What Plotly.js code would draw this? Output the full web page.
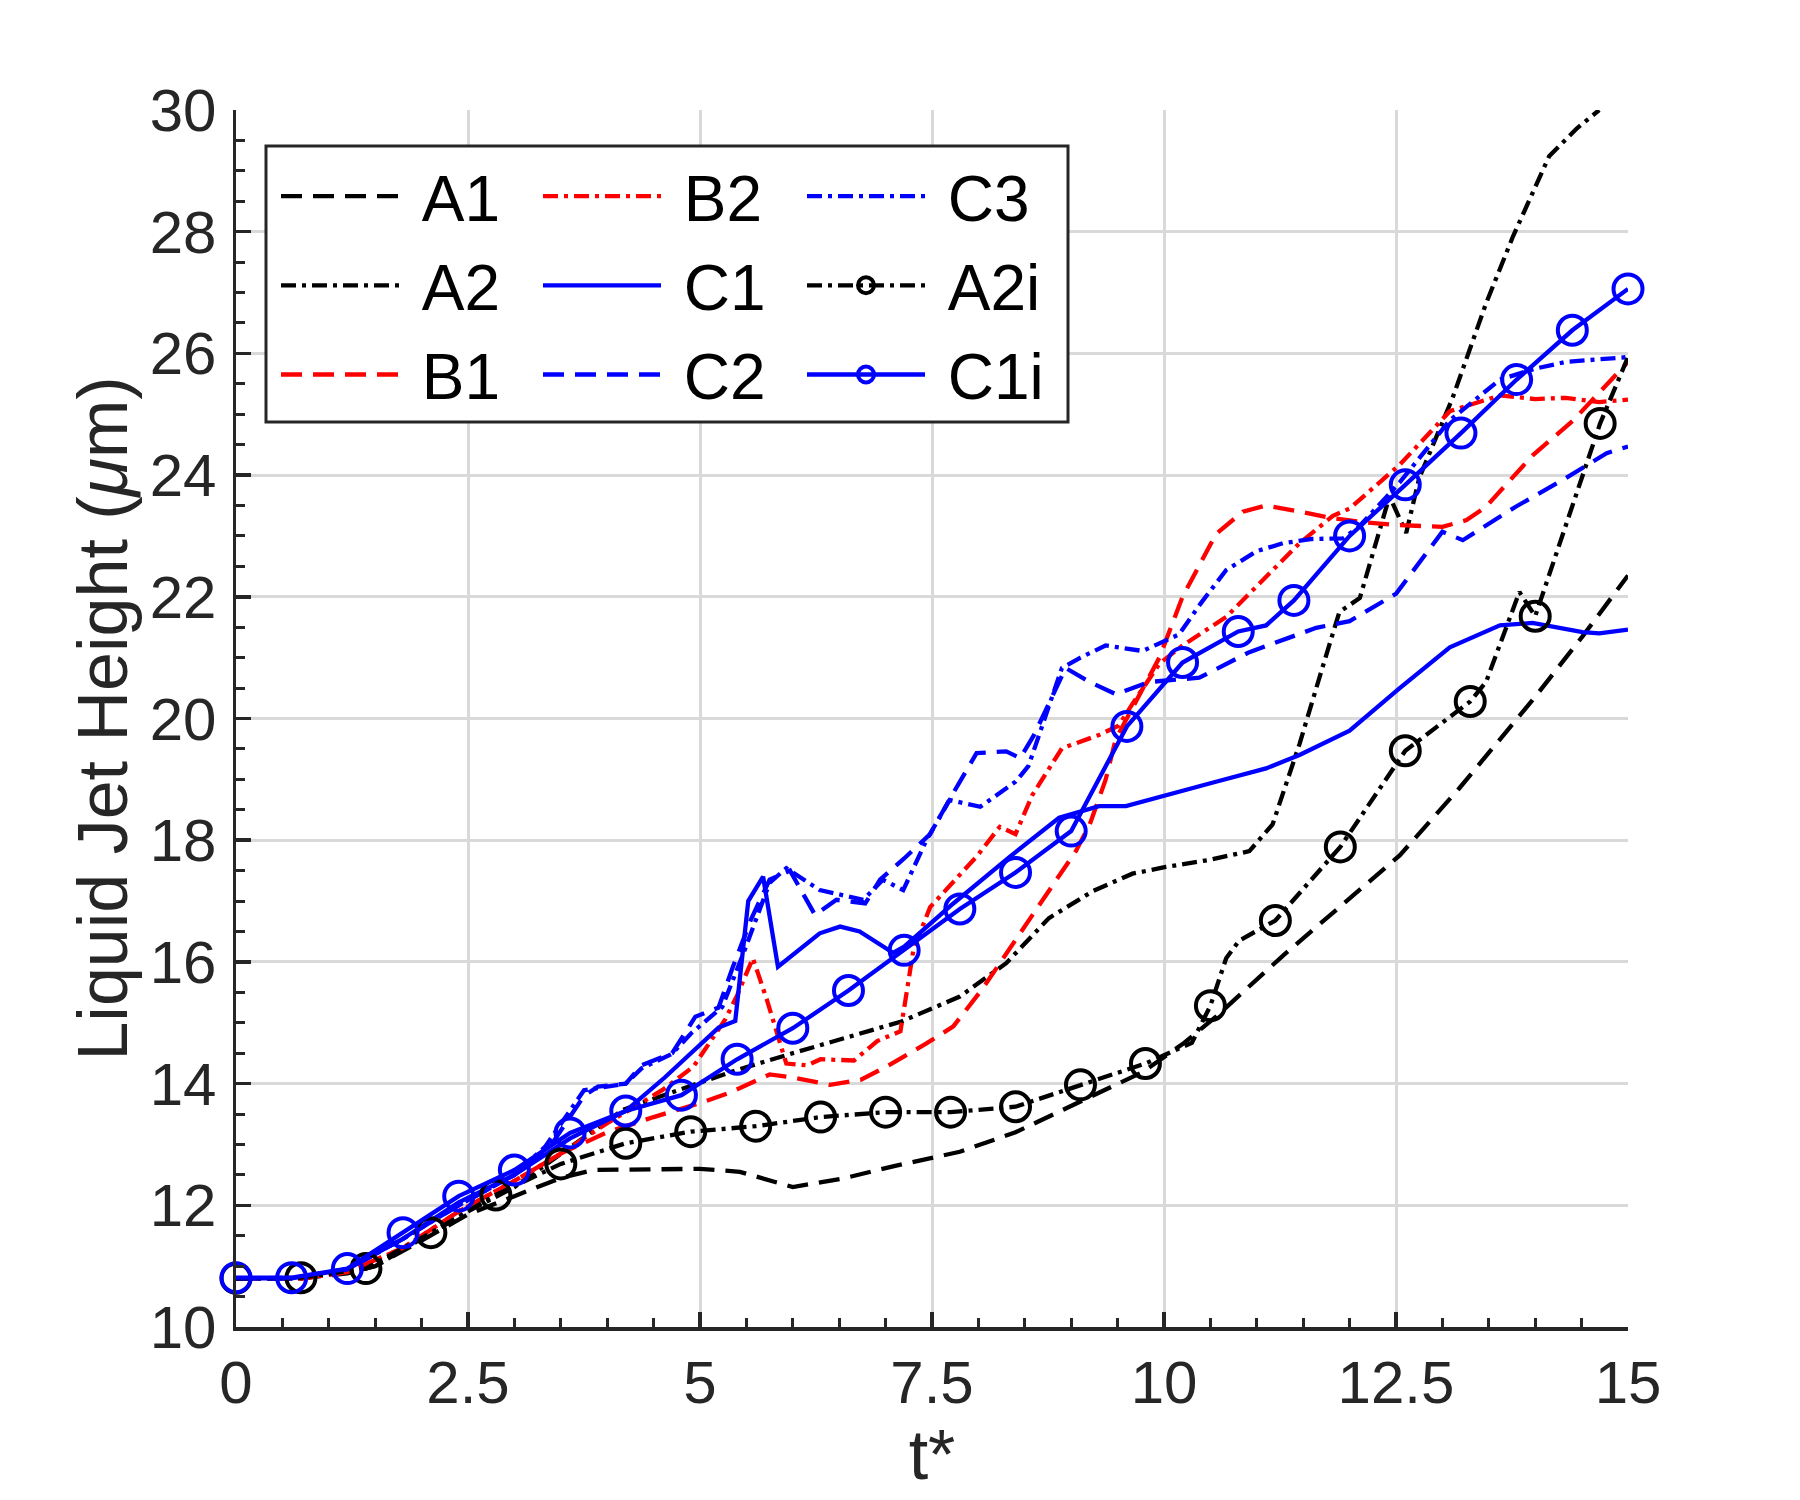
<!DOCTYPE html>
<html>
<head>
<meta charset="utf-8">
<script src="https://cdn.plot.ly/plotly-3.0.1.min.js"></script>
<style>html,body{margin:0;padding:0;background:#fff;}#chart{width:1800px;height:1500px;}</style>
</head>
<body>
<div id="chart"></div>
<script>
// ---------- data ----------
const A1_t = [0,0.7,1.2,1.5,2.0,2.5,3.0,3.5,3.85,4.5,5.0,5.43,6.0,6.54,7.08,7.8,8.4,9.12,9.77,10.2,10.56,11.28,12.0,12.54,13.18,13.97,14.51,15];
const A1_y = [10.8,10.8,10.88,11.0,11.42,11.85,12.15,12.45,12.58,12.6,12.6,12.55,12.3,12.44,12.64,12.88,13.2,13.72,14.19,14.65,15.1,16.1,17.05,17.75,18.85,20.3,21.35,22.35];

const A2_t = [0,0.7,1.2,1.5,2.0,2.5,3.0,3.5,4.17,4.78,5.39,6.0,6.5,7.17,7.8,8.3,8.76,9.23,9.66,10.02,10.5,10.92,11.17,11.46,11.7,11.89,12.11,12.43,12.61,12.75,13.11,13.47,13.76,14.15,14.45,14.69];
const A2_y = [10.8,10.8,10.9,11.0,11.45,11.9,12.3,12.85,13.57,13.9,14.22,14.5,14.72,15.02,15.43,15.98,16.72,17.16,17.45,17.56,17.68,17.82,18.26,19.58,20.8,21.75,21.98,23.65,23.05,23.95,25.27,26.82,27.92,29.24,29.7,30.0];

const B1_t = [0,0.7,1.2,1.8,2.4,3.0,3.5,4.0,4.5,5.0,5.32,5.75,6.0,6.4,6.73,7.01,7.44,7.73,8.04,8.4,8.69,9.05,9.2,9.37,9.48,9.66,9.95,10.2,10.56,10.85,11.1,11.46,11.82,12.18,12.5,13.0,13.26,13.47,13.97,14.41,15];
const B1_y = [10.8,10.8,10.9,11.3,11.9,12.4,12.85,13.2,13.45,13.68,13.85,14.15,14.1,13.98,14.06,14.28,14.66,14.94,15.55,16.35,17.0,17.82,18.26,18.99,19.66,20.17,21.0,22.0,23.03,23.4,23.5,23.4,23.29,23.22,23.18,23.15,23.26,23.48,24.32,24.9,25.86];

const B2_t = [0,0.7,1.2,1.8,2.4,3.0,3.5,4.0,4.3,4.6,4.93,5.27,5.4,5.57,5.72,5.93,6.15,6.3,6.66,6.91,7.16,7.3,7.41,7.48,7.98,8.23,8.4,8.58,8.9,9.3,9.51,9.66,9.95,10.2,10.67,11.1,11.46,11.82,12.0,12.54,13.08,13.62,14.0,14.33,14.69,15];
const B2_y = [10.8,10.8,10.9,11.3,11.9,12.4,12.85,13.35,13.62,13.9,14.28,15.05,15.45,16.06,15.38,14.33,14.3,14.4,14.38,14.7,14.86,16.2,16.63,16.9,17.73,18.22,18.1,18.74,19.51,19.73,19.88,20.24,20.9,21.2,21.67,22.33,22.88,23.33,23.45,24.17,25.05,25.31,25.25,25.27,25.2,25.24];

const C1_t = [0,0.6,1.2,1.8,2.4,3.0,3.6,4.2,4.62,5.2,5.38,5.52,5.68,5.84,6.29,6.51,6.72,7.08,7.2,7.73,8.34,8.87,9.3,9.59,10.56,11.1,11.46,12.0,12.54,13.08,13.62,13.97,14.51,14.69,15];
const C1_y = [10.8,10.8,10.95,11.45,12.05,12.5,13.1,13.55,14.1,14.92,15.03,17.0,17.4,15.92,16.47,16.58,16.5,16.15,16.25,16.96,17.73,18.37,18.56,18.56,18.96,19.18,19.4,19.8,20.5,21.17,21.53,21.57,21.42,21.4,21.46];

const C2_t = [0,0.6,1.2,1.8,2.4,3.0,3.4,3.75,3.9,4.2,4.37,4.7,4.95,5.2,5.35,5.55,5.75,5.97,6.24,6.47,6.78,6.94,7.2,7.48,7.7,7.98,8.3,8.45,8.6,8.94,9.2,9.48,9.84,10.38,10.92,11.64,12.0,12.5,13.0,13.22,13.79,14.33,14.77,15];
const C2_y = [10.8,10.8,10.95,11.45,12.0,12.5,13.0,13.8,13.95,14.0,14.3,14.5,15.1,15.25,15.9,16.7,17.35,17.5,16.77,17.02,16.96,17.35,17.7,18.1,18.7,19.43,19.46,19.35,19.73,20.83,20.6,20.4,20.6,20.67,21.09,21.49,21.6,22.05,23.07,22.93,23.48,23.95,24.36,24.47];

const C3_t = [0,0.6,1.2,1.8,2.4,3.0,3.33,3.75,4.2,4.37,4.7,4.9,5.24,5.48,5.75,5.93,6.29,6.76,6.97,7.19,7.44,7.69,8.02,8.4,8.54,8.72,8.9,9.1,9.37,9.77,10.16,10.4,10.67,11.0,11.28,11.6,11.93,12.1,12.54,13.08,13.62,14.0,14.33,15];
const C3_y = [10.8,10.8,10.95,11.45,12.0,12.5,12.96,13.89,14.0,14.25,14.49,14.82,15.26,16.19,17.3,17.54,17.18,17.02,17.35,17.18,18.0,18.66,18.55,18.96,19.22,20.02,20.83,21.0,21.2,21.11,21.38,21.9,22.44,22.75,22.88,22.95,22.96,23.15,23.88,24.9,25.57,25.75,25.86,25.94];

// A2i: markers every 0.7 (marker flag 1), extra line points (flag 0)
const A2i_t = [0,0.7,1.4,2.1,2.8,3.5,4.2,4.9,5.6,6.3,7.0,7.7,8.4,9.1,9.8,10.3,10.5,10.67,10.81,11.2,11.9,12.6,13.3,13.47,13.83,14.0,14.7,15];
const A2i_y = [10.8,10.81,10.96,11.55,12.17,12.68,13.02,13.21,13.3,13.45,13.53,13.53,13.62,13.98,14.33,14.67,15.28,16.06,16.35,16.68,17.89,19.47,20.28,20.6,22.08,21.68,24.85,25.94];
const A2i_m = [1,1,1,1,1,1,1,1,1,1,1,1,1,1,1,0,1,0,0,1,1,1,1,0,0,1,1,0];

// C1i: markers every 0.6
const C1i_t = [0,0.6,1.2,1.8,2.4,3.0,3.6,4.2,4.8,5.4,6.0,6.6,7.2,7.8,8.4,9.0,9.6,10.2,10.8,11.1,11.4,12.0,12.6,13.2,13.8,14.4,15.0];
const C1i_y = [10.81,10.81,10.96,11.55,12.15,12.58,13.19,13.55,13.81,14.40,14.91,15.53,16.19,16.87,17.47,18.15,19.87,20.92,21.43,21.53,21.94,23.0,23.84,24.69,25.57,26.38,27.06];
const C1i_m = [1,1,1,1,1,1,1,1,1,1,1,1,1,1,1,1,1,1,1,0,1,1,1,1,1,1,1];

const xTickVals = [0,2.5,5,7.5,10,12.5,15];
const xTickText = ['0','2.5','5','7.5','10','12.5','15'];
const yTickVals = [10,12,14,16,18,20,22,24,26,28,30];

// ---------- styling ----------
const BLACK = '#000000', RED = '#ff0000', BLUE = '#0000ff';
const DASH = '21px,11px';
const DASHDOT = '15px,6px,4px,6px';
const LW = 4.3;
const FONT = '"Liberation Sans", Arial, Helvetica, sans-serif';
const MS = 29;
const NB = '\u00a0';

function line(name, t, y, color, dash, legend, group) {
  return {x: t, y: y, name: NB + name, type: 'scatter', mode: 'lines',
    line: {color: color, width: LW, dash: dash},
    legend: legend, legendgroup: group, hoverinfo: 'skip'};
}
function marked(name, t, y, m, color, dash, legend, group) {
  return {x: t, y: y, name: NB + name, type: 'scatter', mode: 'lines+markers',
    cliponaxis: false,
    line: {color: color, width: LW, dash: dash},
    marker: {symbol: 'circle-open', size: m.map(v => v ? MS : 0), opacity: 1,
             color: color, line: {width: 4, color: color}},
    legend: legend, legendgroup: group, hoverinfo: 'skip'};
}

const traces = [
  line('A1', A1_t, A1_y, BLACK, DASH, 'legend', 'g1'),
  line('A2', A2_t, A2_y, BLACK, DASHDOT, 'legend', 'g2'),
  line('B1', B1_t, B1_y, RED, DASH, 'legend', 'g3'),
  line('B2', B2_t, B2_y, RED, DASHDOT, 'legend2', 'g4'),
  line('C1', C1_t, C1_y, BLUE, 'solid', 'legend2', 'g5'),
  line('C2', C2_t, C2_y, BLUE, DASH, 'legend2', 'g6'),
  line('C3', C3_t, C3_y, BLUE, DASHDOT, 'legend3', 'g7'),
  marked('A2i', A2i_t, A2i_y, A2i_m, BLACK, DASHDOT, 'legend3', 'g8'),
  marked('C1i', C1i_t, C1i_y, C1i_m, BLUE, 'solid', 'legend3', 'g9')
];

const L = 236, R = 172, T = 110, B = 173;
const W = 1800, H = 1500;
const pw = W - L - R, ph = H - T - B;
const px2x = p => (p - L) / pw;
const px2y = p => (H - B - p) / ph;

function legendAt(xpx) {
  return {x: px2x(xpx), xanchor: 'left', y: px2y(148), yanchor: 'top',
    bgcolor: 'rgba(0,0,0,0)', borderwidth: 0, itemwidth: 118,
    traceorder: 'grouped', tracegroupgap: 3,
    font: {family: FONT, size: 64, color: '#000'}};
}

const axisCommon = {
  showline: true, linecolor: '#262626', linewidth: 3.5,
  showgrid: true, gridcolor: '#d9d9d9', gridwidth: 3,
  zeroline: false, ticks: 'inside', ticklen: 15, tickwidth: 3.5, tickcolor: '#262626',
  tickfont: {family: FONT, size: 60, color: '#262626'},
  mirror: false, fixedrange: true
};

const layout = {
  width: W, height: H,
  margin: {l: L, r: R, t: T, b: B, pad: 0},
  paper_bgcolor: '#ffffff', plot_bgcolor: '#ffffff',
  font: {family: FONT, color: '#262626'},
  showlegend: true,
  xaxis: Object.assign({}, axisCommon, {
    range: [0, 15], tickmode: 'array', tickvals: xTickVals, ticktext: xTickText,
    minor: {dtick: 0.5, ticks: 'inside', ticklen: 9, tickwidth: 3, tickcolor: '#262626', showgrid: false},
    ticklabelstandoff: 0,
    title: {text: 't*', font: {family: FONT, size: 70, color: '#262626'}, standoff: 4}
  }),
  yaxis: Object.assign({}, axisCommon, {
    range: [10, 30], tickmode: 'array', tickvals: yTickVals,
    minor: {dtick: 0.5, ticks: 'inside', ticklen: 9, tickwidth: 3, tickcolor: '#262626', showgrid: false},
    ticklabelstandoff: 4,
    title: {text: 'Liquid Jet Height (<i>μ</i>m)', font: {family: FONT, size: 70, color: '#262626'}, standoff: 0}
  }),
  legend: legendAt(276),
  legend2: legendAt(538),
  legend3: legendAt(802),
  shapes: [{
    type: 'rect', xref: 'paper', yref: 'paper', layer: 'above',
    x0: px2x(266), x1: px2x(1068), y0: px2y(146), y1: px2y(422),
    line: {color: '#262626', width: 3}, fillcolor: '#ffffff'
  }]
};

Plotly.newPlot('chart', traces, layout, {staticPlot: true, displayModeBar: false});
</script>
</body>
</html>
